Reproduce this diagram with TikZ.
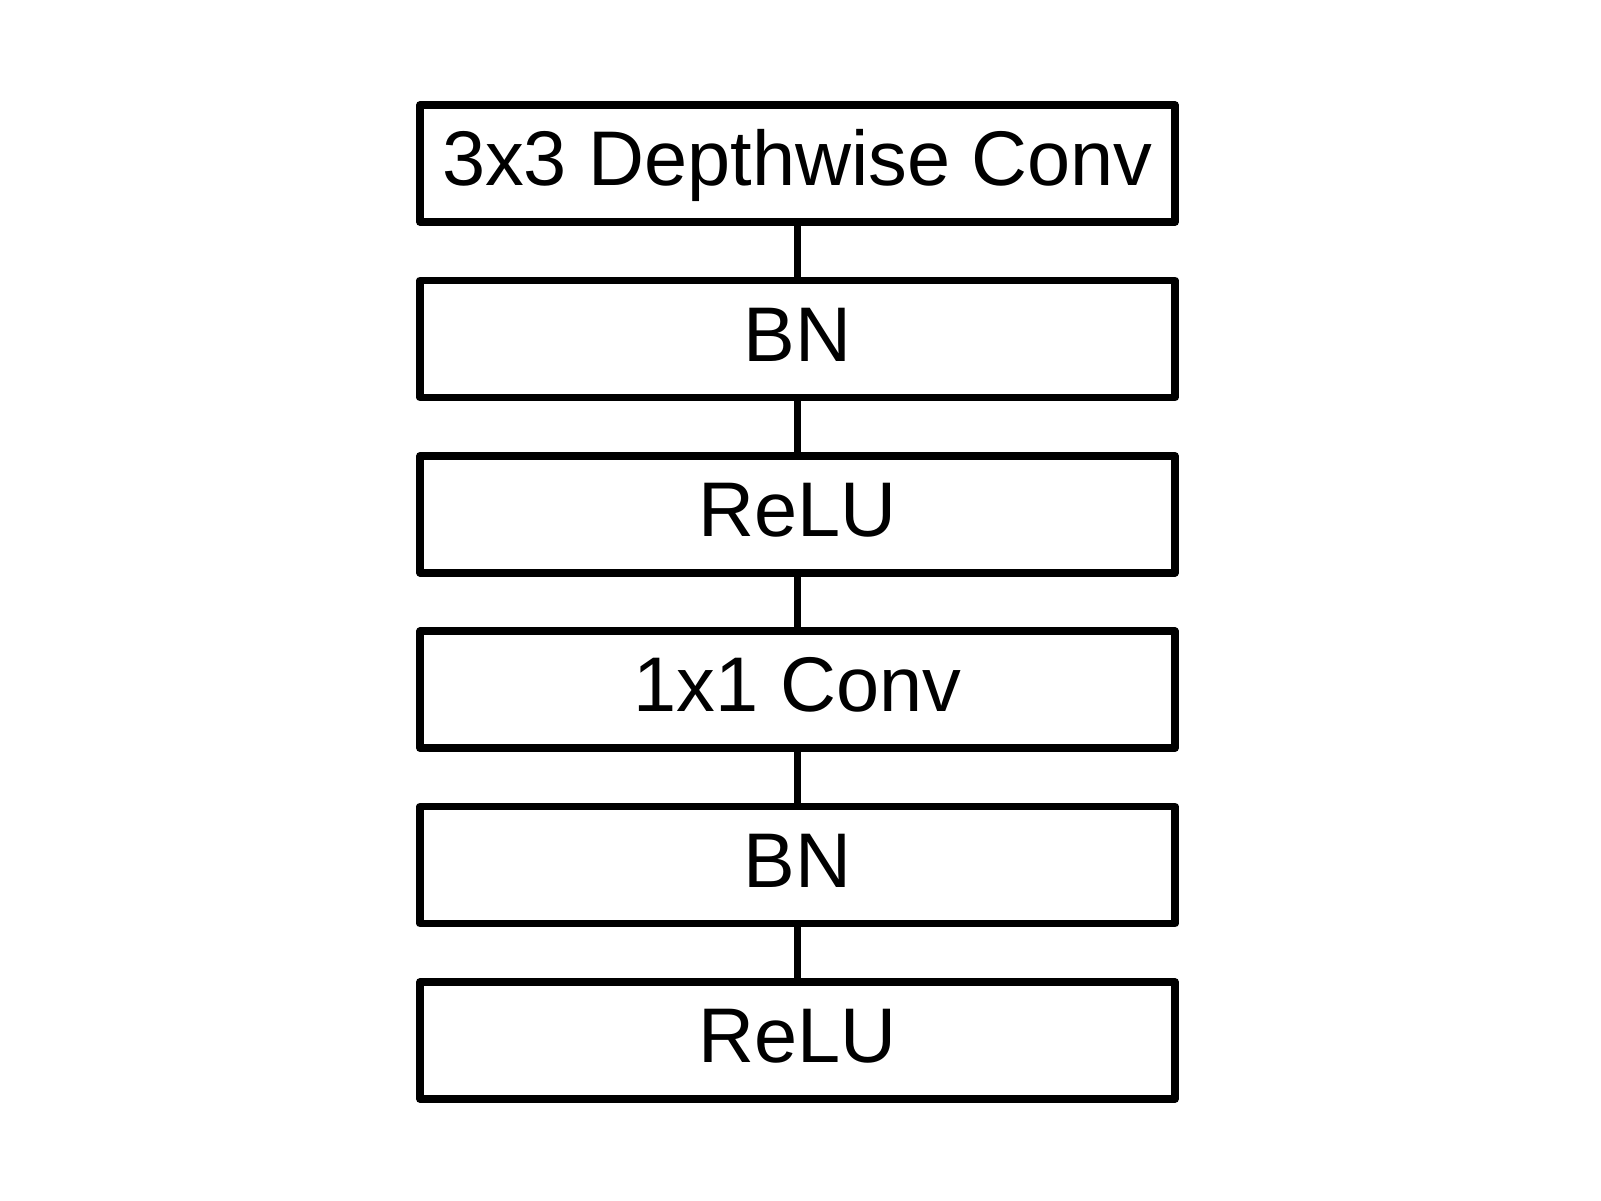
\documentclass[tikz,border=0pt]{standalone}
\usepackage{fontspec}
\setmainfont{Liberation Sans}
\begin{document}
\begin{tikzpicture}[x=1pt,y=-1pt,
  layerbox/.style={draw=black, line width=7.5pt, line join=round, fill=white,
    minimum width=755pt, minimum height=117pt, inner sep=0pt,
    text height=55.5pt, text depth=11pt, font=\fontsize{77.5}{80}\selectfont},
  link/.style={draw=black, line width=7pt}]
\useasboundingbox (0,0) rectangle (1601,1201);
\fill[white] (0,0) rectangle (1601,1201);
\node[layerbox] (b1) at (797.5,163.5) {3x3 Depthwise Conv};
\node[layerbox] (b2) at (797.5,338.9) {BN};
\node[layerbox] (b3) at (797.5,514.3) {ReLU};
\node[layerbox] (b4) at (797.5,689.7) {1x1 Conv};
\node[layerbox] (b5) at (797.5,865.1) {BN};
\node[layerbox] (b6) at (797.5,1040.5) {ReLU};
\foreach \a/\b in {b1/b2,b2/b3,b3/b4,b4/b5,b5/b6}
  \draw[link] (\a.south) -- (\b.north);
\end{tikzpicture}
\end{document}
